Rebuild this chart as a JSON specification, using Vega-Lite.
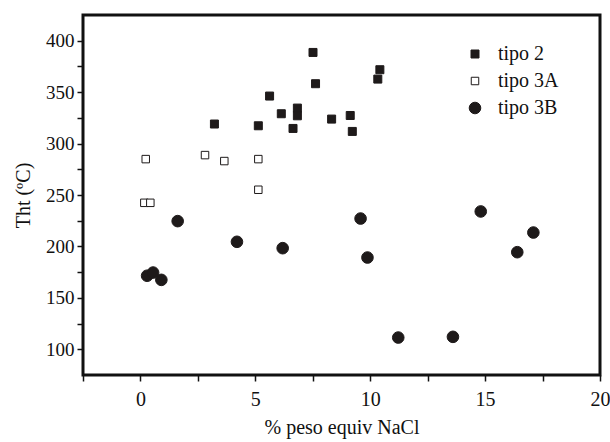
{
  "$schema": "https://vega.github.io/schema/vega-lite/v6.json",
  "autosize": "none",
  "width": 517,
  "height": 360,
  "padding": {"left": 83, "top": 15, "right": 10, "bottom": 67},
  "background": "white",
  "config": {
    "view": {"stroke": "#111111", "strokeWidth": 3},
    "font": "Liberation Serif"
  },
  "data": {
    "values": [
      {"x": 7.51, "y": 388.6, "tipo": "tipo 2"},
      {"x": 10.42, "y": 371.8, "tipo": "tipo 2"},
      {"x": 10.33, "y": 362.7, "tipo": "tipo 2"},
      {"x": 7.62, "y": 358.2, "tipo": "tipo 2"},
      {"x": 5.62, "y": 346.2, "tipo": "tipo 2"},
      {"x": 6.13, "y": 329.0, "tipo": "tipo 2"},
      {"x": 6.83, "y": 334.5, "tipo": "tipo 2"},
      {"x": 6.83, "y": 327.0, "tipo": "tipo 2"},
      {"x": 8.32, "y": 323.8, "tipo": "tipo 2"},
      {"x": 9.13, "y": 327.3, "tipo": "tipo 2"},
      {"x": 3.22, "y": 319.0, "tipo": "tipo 2"},
      {"x": 5.13, "y": 317.3, "tipo": "tipo 2"},
      {"x": 6.64, "y": 314.7, "tipo": "tipo 2"},
      {"x": 9.22, "y": 311.8, "tipo": "tipo 2"},
      {"x": 0.23, "y": 284.9, "tipo": "tipo 3A"},
      {"x": 2.81, "y": 288.8, "tipo": "tipo 3A"},
      {"x": 3.65, "y": 283.0, "tipo": "tipo 3A"},
      {"x": 5.13, "y": 284.9, "tipo": "tipo 3A"},
      {"x": 5.13, "y": 255.1, "tipo": "tipo 3A"},
      {"x": 0.17, "y": 242.4, "tipo": "tipo 3A"},
      {"x": 0.43, "y": 242.4, "tipo": "tipo 3A"},
      {"x": 1.62, "y": 224.6, "tipo": "tipo 3B"},
      {"x": 4.2, "y": 204.5, "tipo": "tipo 3B"},
      {"x": 6.19, "y": 198.3, "tipo": "tipo 3B"},
      {"x": 9.58, "y": 227.1, "tipo": "tipo 3B"},
      {"x": 9.88, "y": 189.2, "tipo": "tipo 3B"},
      {"x": 11.22, "y": 111.4, "tipo": "tipo 3B"},
      {"x": 0.29, "y": 171.5, "tipo": "tipo 3B"},
      {"x": 0.55, "y": 174.6, "tipo": "tipo 3B"},
      {"x": 0.91, "y": 167.5, "tipo": "tipo 3B"},
      {"x": 14.81, "y": 234.0, "tipo": "tipo 3B"},
      {"x": 17.1, "y": 213.5, "tipo": "tipo 3B"},
      {"x": 16.4, "y": 194.4, "tipo": "tipo 3B"},
      {"x": 13.6, "y": 112.1, "tipo": "tipo 3B"}
    ]
  },
  "mark": {"type": "point", "filled": true, "stroke": "#1e1a1a", "strokeWidth": 1, "opacity": 1},
  "encoding": {
    "x": {
      "field": "x", "type": "quantitative",
      "scale": {"domain": [-2.5, 20], "nice": false, "zero": false},
      "axis": {
        "title": "% peso equiv NaCl",
        "values": [-2.5, 0, 2.5, 5, 7.5, 10, 12.5, 15, 17.5, 20],
        "labelExpr": "datum.value % 5 === 0 ? datum.label : ''",
        "grid": false, "domain": false,
        "tickColor": "#111111", "tickWidth": 1.5, "tickSize": 6,
        "labelFont": "Liberation Serif", "labelFontSize": 20, "labelColor": "#111111",
        "labelPadding": 8, "labelOverlap": false, "labelBound": false, "labelFlush": false,
        "titleFont": "Liberation Serif", "titleFontSize": 20, "titleFontWeight": "normal", "titleColor": "#111111",
        "titlePadding": 8
      }
    },
    "y": {
      "field": "y", "type": "quantitative",
      "scale": {"domain": [75, 425], "nice": false, "zero": false},
      "axis": {
        "title": "Tht (ºC)",
        "values": [100, 125, 150, 175, 200, 225, 250, 275, 300, 325, 350, 375, 400],
        "labelExpr": "datum.value % 50 === 0 ? datum.label : ''",
        "grid": false, "domain": false,
        "tickColor": "#111111", "tickWidth": 1.5, "tickSize": 6,
        "labelFont": "Liberation Serif", "labelFontSize": 19, "labelColor": "#111111",
        "labelPadding": 3, "labelOverlap": false, "labelBound": false,
        "titleFont": "Liberation Serif", "titleFontSize": 20, "titleFontWeight": "normal", "titleColor": "#111111",
        "titlePadding": 12
      }
    },
    "shape": {
      "field": "tipo", "type": "nominal",
      "scale": {"domain": ["tipo 2", "tipo 3A", "tipo 3B"], "range": ["square", "square", "circle"]},
      "legend": {
        "title": null, "orient": "none", "legendX": 382, "legendY": 29,
        "labelFont": "Liberation Serif", "labelFontSize": 20, "labelColor": "#111111",
        "labelOffset": 13, "rowPadding": 7, "symbolStrokeWidth": 1
      }
    },
    "fill": {
      "field": "tipo", "type": "nominal",
      "scale": {"domain": ["tipo 2", "tipo 3A", "tipo 3B"], "range": ["#1e1a1a", "#ffffff", "#1e1a1a"]},
      "legend": {
        "title": null, "orient": "none", "legendX": 382, "legendY": 29,
        "labelFont": "Liberation Serif", "labelFontSize": 20, "labelColor": "#111111",
        "labelOffset": 13, "rowPadding": 7, "symbolStrokeWidth": 1
      }
    },
    "size": {
      "field": "tipo", "type": "nominal",
      "scale": {"type": "ordinal", "domain": ["tipo 2", "tipo 3A", "tipo 3B"], "range": [64, 56, 135]},
      "legend": {
        "title": null, "orient": "none", "legendX": 382, "legendY": 29,
        "labelFont": "Liberation Serif", "labelFontSize": 20, "labelColor": "#111111",
        "labelOffset": 13, "rowPadding": 7, "symbolStrokeWidth": 1
      }
    }
  }
}
